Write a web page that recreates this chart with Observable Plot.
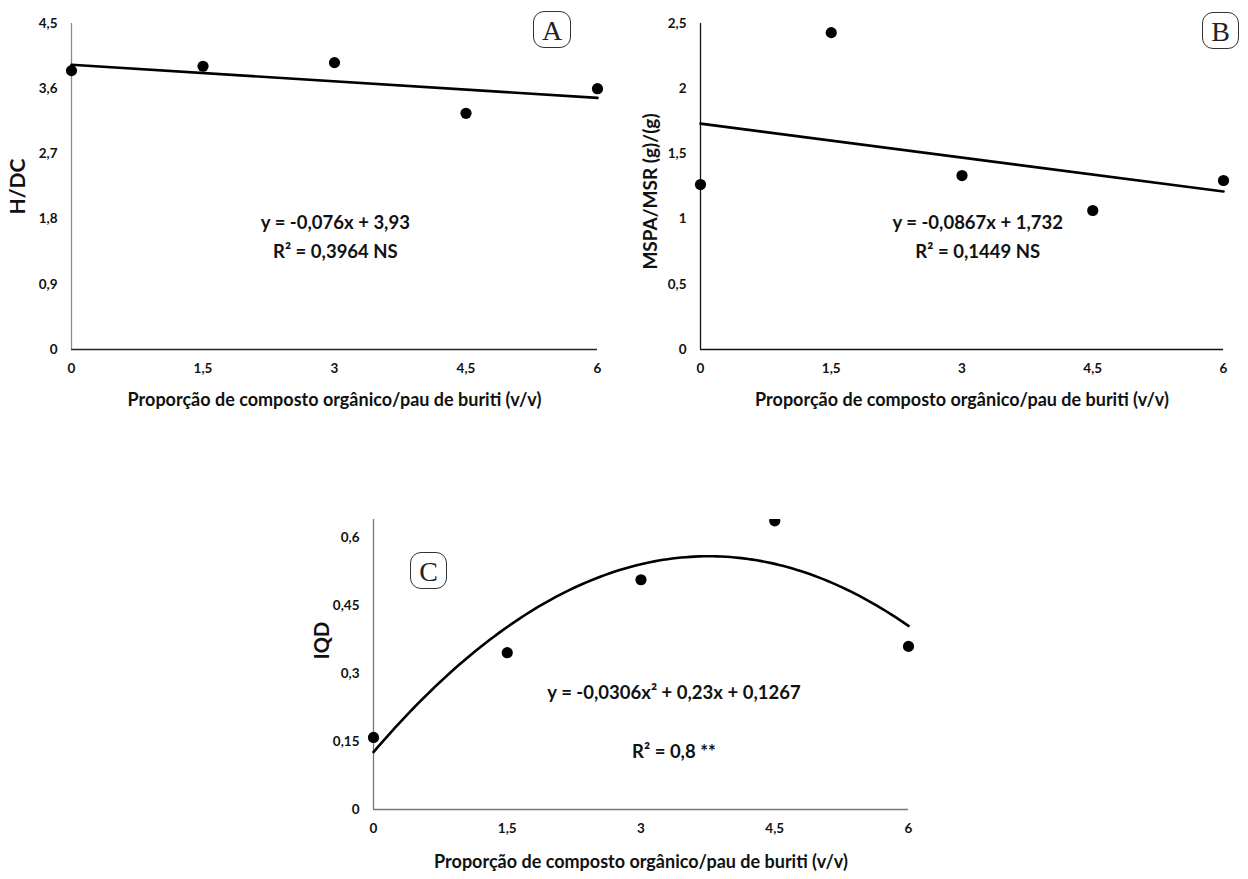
<!DOCTYPE html>
<html>
<head>
<meta charset="utf-8">
<script src="https://cdn.jsdelivr.net/npm/d3@7"></script>
<script src="https://cdn.jsdelivr.net/npm/@observablehq/plot@0.6"></script>
<style>
  html, body { margin: 0; padding: 0; background: #fff; }
  #fig { position: relative; width: 1248px; height: 879px; overflow: hidden; font-family: Lato, sans-serif; }
  .panel { position: absolute; }
  .tag { position: absolute; box-sizing: border-box; border: 1.3px solid #333; border-radius: 11px;
         font-family: "Liberation Serif", "DejaVu Serif", serif; font-size: 28px; color: #222;
         display: flex; align-items: center; justify-content: center; line-height: 1; padding-top: 2px; }
</style>
</head>
<body>
<div id="fig"></div>
<script>
// ---- data ----
const xValues = [0, 1.5, 3, 4.5, 6];
const xTicks = [0, 1.5, 3, 4.5, 6];
const hdc = [3.85, 3.91, 3.96, 3.26, 3.60];
const mspaMsr = [1.265, 2.43, 1.334, 1.066, 1.296];
const iqd = [0.159, 0.346, 0.507, 0.637, 0.36];
const hdcTicks = [0, 0.9, 1.8, 2.7, 3.6, 4.5];
const mspaTicks = [0, 0.5, 1, 1.5, 2, 2.5];
const iqdTicks = [0, 0.15, 0.3, 0.45, 0.6];
// regression coefficients as printed on the chart: [c0, c1, c2]
const fitA = [3.93, -0.076];
const fitB = [1.732, -0.0867];
const fitC = [0.1267, 0.23, -0.0306];
const xTitle = "Proporção de composto orgânico/pau de buriti (v/v)";
const eqA = ["y = -0,076x + 3,93", "R² = 0,3964 NS"];
const eqB = ["y = -0,0867x + 1,732", "R² = 0,1449 NS"];
const eqC = ["y = -0,0306x² + 0,23x + 0,1267", "R² = 0,8 **"];

const fmt = d => String(d).replace(".", ",");
const poly = (c, x) => c.reduce((s, k, i) => s + k * Math.pow(x, i), 0);
const fitLine = (c, n) => d3.range(n + 1).map(i => { const x = 6 * i / n; return {x, y: poly(c, x)}; });
const textStyle = {fontWeight: "bold", fill: "#111"};

function panel(o) {
  const pts = xValues.map((x, i) => ({x, y: o.values[i]}));
  const line = fitLine(o.fit, o.fit.length > 2 ? 120 : 1);
  const yMax = o.yDomain[1];
  const chart = Plot.plot({
    width: o.width, height: o.height,
    marginLeft: o.ml, marginRight: o.mr, marginTop: o.mt, marginBottom: o.mb,
    style: {fontFamily: "Lato, sans-serif", fontWeight: "bold", color: "#111", background: "transparent", overflow: "visible"},
    x: {domain: [0, 6], axis: null},
    y: {domain: o.yDomain, axis: null},
    marks: [
      // tick labels drawn as text marks through the scales
      Plot.text(xTicks, {x: d => d, frameAnchor: "bottom", dy: 23, text: fmt, fontSize: 13.5, ...textStyle}),
      Plot.text(o.yTicks, {y: d => d, frameAnchor: "left", textAnchor: "end", dx: -14, text: fmt, fontSize: 13.5, ...textStyle}),
      Plot.ruleY([0], {stroke: o.xAxisColor, strokeWidth: 1.3}),
      Plot.ruleX([0], {stroke: o.yAxisColor, strokeWidth: 1.3}),
      Plot.line(line, {x: "x", y: "y", stroke: "#000", strokeWidth: 2.6, curve: "linear"}),
      // points reaching beyond the top of the frame are cut at the frame edge
      Plot.dot(pts, {filter: d => d.y <= yMax * 0.97, x: "x", y: "y", r: 5.6, fill: "#000", stroke: "none"}),
      Plot.dot(pts, {filter: d => d.y > yMax * 0.97, x: "x", y: "y", r: 5.6, fill: "#000", stroke: "none", clip: true}),
      Plot.text([o.eq[0]], {x: o.eqX, y: o.eqY[0], text: d => d, fontSize: 18.5, ...textStyle}),
      Plot.text([o.eq[1]], {x: o.eqX, y: o.eqY[1], text: d => d, fontSize: 18.5, ...textStyle}),
      Plot.text([xTitle], {frameAnchor: "bottom", dy: o.xtDy, text: d => d, fontSize: 18, ...textStyle}),
      Plot.text([o.yTitle], {frameAnchor: "left", textAnchor: "middle", dx: o.ytDx, dy: o.ytDy, rotate: -90, text: d => d, fontSize: o.ytSize, ...textStyle})
    ]
  });
  const div = document.createElement("div");
  div.className = "panel";
  div.style.left = o.left + "px";
  div.style.top = o.top + "px";
  div.appendChild(chart);
  document.getElementById("fig").appendChild(div);
}

function tag(letter, left, top, w, h) {
  const t = document.createElement("div");
  t.className = "tag";
  t.textContent = letter;
  Object.assign(t.style, {left: left + "px", top: top + "px", width: w + "px", height: h + "px"});
  document.getElementById("fig").appendChild(t);
}

panel({left: 0, top: 0, width: 620, height: 420, ml: 71, mr: 23, mt: 23, mb: 71,
  values: hdc, yDomain: [0, 4.5], yTicks: hdcTicks, fit: fitA,
  eq: eqA, eqX: 3.01, eqY: [1.74, 1.34],
  yTitle: "H/DC", ytSize: 21, xtDy: 56, ytDx: -53, ytDy: 0,
  xAxisColor: "#222", yAxisColor: "#8a8a8a"});

panel({left: 620, top: 0, width: 628, height: 420, ml: 80, mr: 25, mt: 23, mb: 71,
  values: mspaMsr, yDomain: [0, 2.5], yTicks: mspaTicks, fit: fitB,
  eq: eqB, eqX: 3.18, eqY: [0.966, 0.744],
  yTitle: "MSPA/MSR (g)/(g)", ytSize: 19, xtDy: 56, ytDx: -50, ytDy: 5,
  xAxisColor: "#111", yAxisColor: "#111"});

panel({left: 300, top: 500, width: 640, height: 379, ml: 73, mr: 32, mt: 19, mb: 70,
  values: iqd, yDomain: [0, 0.64], yTicks: iqdTicks, fit: fitC,
  eq: eqC, eqX: 3.37, eqY: [0.256, 0.126],
  yTitle: "IQD", ytSize: 20, xtDy: 58, ytDx: -51, ytDy: -24,
  xAxisColor: "#777", yAxisColor: "#777"});

tag("A", 533, 11, 38, 37);
tag("B", 1202, 12, 37, 37);
tag("C", 410, 552, 37, 37);
</script>
</body>
</html>
